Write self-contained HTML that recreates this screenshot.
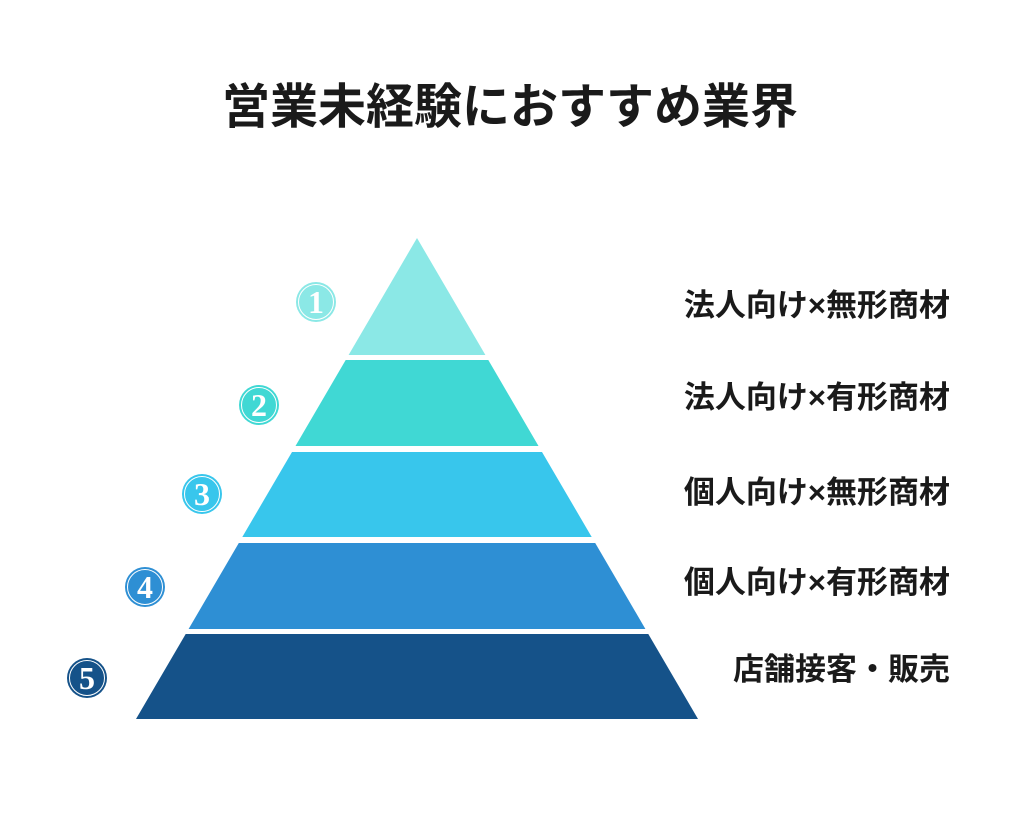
<!DOCTYPE html>
<html><head><meta charset="utf-8"><style>
html,body{margin:0;padding:0;background:#fff;}
body{width:1024px;height:816px;position:relative;overflow:hidden;font-family:"Liberation Sans","Noto Sans CJK JP",sans-serif;}
.t{position:absolute;font-weight:bold;color:#1a1a1a;white-space:nowrap;}
.title{left:0;width:1024px;text-align:center;top:78px;font-size:48px;line-height:60px;padding-right:4px;box-sizing:border-box;}
.lbl{right:74px;font-size:31px;line-height:36px;}
</style></head><body>
<div class="t title">営業未経験におすすめ業界</div>
<svg width="1024" height="816" style="position:absolute;left:0;top:0">
<polygon points="417,238 485.4,355 348.6,355" fill="#8be8e6"/>
<polygon points="345.7,360 488.3,360 538.5,446 295.5,446" fill="#40d8d4"/>
<polygon points="292,452 542,452 591.7,537 242.3,537" fill="#38c6ec"/>
<polygon points="238.8,543 595.2,543 645.4,629 188.6,629" fill="#2e8fd4"/>
<polygon points="185.7,634 648.3,634 698,719 136,719" fill="#155289"/>
<g font-family="Liberation Serif,serif" font-weight="bold" font-size="32" fill="#fff" text-anchor="middle">
<circle cx="316" cy="302" r="20" fill="#8be8e6"/><circle cx="316" cy="302" r="17.5" fill="none" stroke="#fff" stroke-width="1"/><text x="316" y="313">1</text>
<circle cx="259" cy="405" r="20" fill="#40d8d4"/><circle cx="259" cy="405" r="17.5" fill="none" stroke="#fff" stroke-width="1"/><text x="259" y="416">2</text>
<circle cx="202" cy="494" r="20" fill="#38c6ec"/><circle cx="202" cy="494" r="17.5" fill="none" stroke="#fff" stroke-width="1"/><text x="202" y="505">3</text>
<circle cx="145" cy="587" r="20" fill="#2e8fd4"/><circle cx="145" cy="587" r="17.5" fill="none" stroke="#fff" stroke-width="1"/><text x="145" y="598">4</text>
<circle cx="87" cy="678" r="20" fill="#155289"/><circle cx="87" cy="678" r="17.5" fill="none" stroke="#fff" stroke-width="1"/><text x="87" y="689">5</text>
</g>
</svg>
<div class="t lbl" style="top:288px">法人向け×無形商材</div>
<div class="t lbl" style="top:380px">法人向け×有形商材</div>
<div class="t lbl" style="top:475px">個人向け×無形商材</div>
<div class="t lbl" style="top:565px">個人向け×有形商材</div>
<div class="t lbl" style="top:652px">店舗接客・販売</div>
</body></html>
